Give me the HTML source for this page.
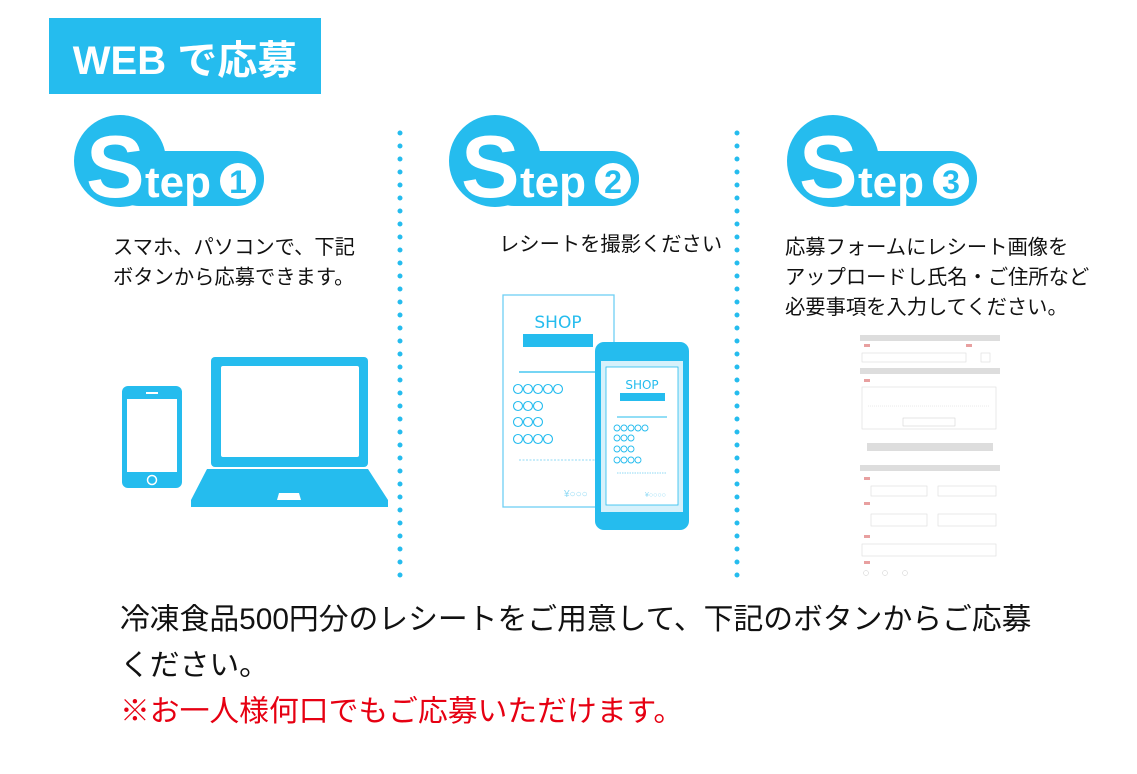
<!DOCTYPE html>
<html><head><meta charset="utf-8"><style>
body{margin:0;width:1137px;height:774px;background:#fff;overflow:hidden;position:relative;font-family:"Liberation Sans","Noto Sans CJK JP",sans-serif;}
.t{position:absolute;white-space:nowrap;color:#111;}
</style></head><body>
<svg width="1137" height="774" style="position:absolute;left:0;top:0" xmlns="http://www.w3.org/2000/svg">
<rect x="49" y="18" width="272" height="76" fill="#25bcee"/>
<text x="185" y="74" text-anchor="middle" font-size="40" font-weight="bold" fill="#fff" font-family="Liberation Sans,Noto Sans CJK JP,sans-serif">WEB で応募</text>
<line x1="400" y1="133" x2="400" y2="580" stroke="#25bcee" stroke-width="5" stroke-linecap="round" stroke-dasharray="0 13"/>
<line x1="737" y1="133" x2="737" y2="580" stroke="#25bcee" stroke-width="5" stroke-linecap="round" stroke-dasharray="0 13"/>
<g transform="translate(72,115)">
<circle cx="48" cy="46" r="46" fill="#25bcee"/>
<rect x="40" y="36" width="152" height="55" rx="27" fill="#25bcee"/>
<text x="14" y="82" font-size="88" font-weight="bold" fill="#fff" font-family="Liberation Sans,sans-serif">S</text>
<text x="73" y="82" font-size="44" font-weight="bold" fill="#fff" font-family="Liberation Sans,sans-serif">tep</text>
<circle cx="166" cy="66" r="18" fill="#fff"/>
<text x="166" y="78" text-anchor="middle" font-size="32" font-weight="bold" fill="#25bcee" font-family="Liberation Sans,sans-serif">1</text>
</g>
<g transform="translate(447,115)">
<circle cx="48" cy="46" r="46" fill="#25bcee"/>
<rect x="40" y="36" width="152" height="55" rx="27" fill="#25bcee"/>
<text x="14" y="82" font-size="88" font-weight="bold" fill="#fff" font-family="Liberation Sans,sans-serif">S</text>
<text x="73" y="82" font-size="44" font-weight="bold" fill="#fff" font-family="Liberation Sans,sans-serif">tep</text>
<circle cx="166" cy="66" r="18" fill="#fff"/>
<text x="166" y="78" text-anchor="middle" font-size="32" font-weight="bold" fill="#25bcee" font-family="Liberation Sans,sans-serif">2</text>
</g>
<g transform="translate(785,115)">
<circle cx="48" cy="46" r="46" fill="#25bcee"/>
<rect x="40" y="36" width="152" height="55" rx="27" fill="#25bcee"/>
<text x="14" y="82" font-size="88" font-weight="bold" fill="#fff" font-family="Liberation Sans,sans-serif">S</text>
<text x="73" y="82" font-size="44" font-weight="bold" fill="#fff" font-family="Liberation Sans,sans-serif">tep</text>
<circle cx="166" cy="66" r="18" fill="#fff"/>
<text x="166" y="78" text-anchor="middle" font-size="32" font-weight="bold" fill="#25bcee" font-family="Liberation Sans,sans-serif">3</text>
</g>
<rect x="122" y="386" width="60" height="102" rx="6" fill="#25bcee"/>
<rect x="127" y="399" width="50" height="73" fill="#fff"/>
<circle cx="152" cy="480" r="4.5" fill="none" stroke="#fff" stroke-width="1.5"/>
<rect x="146" y="392" width="12" height="2" fill="#fff"/>
<rect x="211" y="357" width="157" height="110" rx="4" fill="#25bcee"/>
<rect x="221" y="366" width="138" height="91" rx="2" fill="#fff"/>
<path d="M207 469 L368 469 L388 500 L388 507 L191 507 L191 500 Z" fill="#25bcee"/>
<path d="M279 493 L299 493 L301 500 L277 500 Z" fill="#fff"/>
<rect x="503" y="295" width="111" height="212" fill="#fff" stroke="#6fd0f3" stroke-width="1.3"/>
<text x="558" y="328" text-anchor="middle" font-size="17" fill="#25bcee" font-family="DejaVu Sans,sans-serif">SHOP</text>
<rect x="523" y="334" width="70" height="13" fill="#25bcee"/>
<line x1="519" y1="372" x2="600" y2="372" stroke="#25bcee" stroke-width="1.2"/>
<g fill="none" stroke="#25bcee" stroke-width="1.1">
<circle cx="518" cy="389" r="4.5"/><circle cx="528" cy="389" r="4.5"/><circle cx="538" cy="389" r="4.5"/><circle cx="548" cy="389" r="4.5"/><circle cx="558" cy="389" r="4.5"/>
<circle cx="518" cy="406" r="4.5"/><circle cx="528" cy="406" r="4.5"/><circle cx="538" cy="406" r="4.5"/>
<circle cx="518" cy="422" r="4.5"/><circle cx="528" cy="422" r="4.5"/><circle cx="538" cy="422" r="4.5"/>
<circle cx="518" cy="439" r="4.5"/><circle cx="528" cy="439" r="4.5"/><circle cx="538" cy="439" r="4.5"/><circle cx="548" cy="439" r="4.5"/>
</g>
<line x1="519" y1="460" x2="600" y2="460" stroke="#8fdaf5" stroke-dasharray="2 1.5"/>
<text x="564" y="497" font-size="10" fill="#8fdaf5">¥○○○</text>
<rect x="595" y="342" width="94" height="188" rx="9" fill="#25bcee"/>
<rect x="601" y="361" width="82" height="151" fill="#d6f1fb"/>
<rect x="606" y="367" width="72" height="138" fill="#fff" stroke="#25bcee" stroke-width="0.8"/>
<text x="642" y="389" text-anchor="middle" font-size="12" fill="#25bcee" font-family="DejaVu Sans,sans-serif">SHOP</text>
<rect x="620" y="393" width="45" height="8" fill="#25bcee"/>
<line x1="617" y1="417" x2="667" y2="417" stroke="#25bcee"/>
<g fill="none" stroke="#25bcee" stroke-width="0.9">
<circle cx="617" cy="428" r="3"/><circle cx="624" cy="428" r="3"/><circle cx="631" cy="428" r="3"/><circle cx="638" cy="428" r="3"/><circle cx="645" cy="428" r="3"/>
<circle cx="617" cy="438" r="3"/><circle cx="624" cy="438" r="3"/><circle cx="631" cy="438" r="3"/>
<circle cx="617" cy="449" r="3"/><circle cx="624" cy="449" r="3"/><circle cx="631" cy="449" r="3"/>
<circle cx="617" cy="460" r="3"/><circle cx="624" cy="460" r="3"/><circle cx="631" cy="460" r="3"/><circle cx="638" cy="460" r="3"/>
</g>
<line x1="617" y1="473" x2="667" y2="473" stroke="#8fdaf5" stroke-dasharray="1.5 1"/>
<text x="645" y="497" font-size="7" fill="#8fdaf5">¥○○○○</text>
<g>
<rect x="860" y="335" width="140" height="6" fill="#ddd"/>
<rect x="864" y="344" width="6" height="3" fill="#e8a0a0"/>
<rect x="966" y="344" width="6" height="3" fill="#e8a0a0"/>
<rect x="862" y="353" width="104" height="9" fill="#fff" stroke="#ddd" stroke-width="0.6"/>
<rect x="981" y="353" width="9" height="9" fill="#fff" stroke="#ddd" stroke-width="0.6"/>
<rect x="860" y="368" width="140" height="6" fill="#ddd"/>
<rect x="864" y="379" width="6" height="3" fill="#e8a0a0"/>
<rect x="862" y="387" width="134" height="42" fill="#fff" stroke="#ddd" stroke-width="0.6"/>
<line x1="868" y1="406" x2="990" y2="406" stroke="#ccc" stroke-width="0.4" stroke-dasharray="1 1"/>
<rect x="903" y="418" width="52" height="8" fill="#fff" stroke="#ccc" stroke-width="0.5"/>
<rect x="867" y="443" width="126" height="8" fill="#ddd"/>
<rect x="860" y="465" width="140" height="6" fill="#ddd"/>
<rect x="864" y="477" width="6" height="3" fill="#e8a0a0"/>
<rect x="871" y="486" width="56" height="10" fill="#fff" stroke="#ddd" stroke-width="0.6"/>
<rect x="938" y="486" width="58" height="10" fill="#fff" stroke="#ddd" stroke-width="0.6"/>
<rect x="864" y="502" width="6" height="3" fill="#e8a0a0"/>
<rect x="871" y="514" width="56" height="12" fill="#fff" stroke="#ddd" stroke-width="0.6"/>
<rect x="938" y="514" width="58" height="12" fill="#fff" stroke="#ddd" stroke-width="0.6"/>
<rect x="864" y="535" width="6" height="3" fill="#e8a0a0"/>
<rect x="862" y="544" width="134" height="12" fill="#fff" stroke="#ddd" stroke-width="0.6"/>
<rect x="864" y="561" width="6" height="3" fill="#e8a0a0"/>
<circle cx="866" cy="573" r="2.5" fill="none" stroke="#ccc" stroke-width="0.5"/>
<circle cx="885" cy="573" r="2.5" fill="none" stroke="#ccc" stroke-width="0.5"/>
<circle cx="905" cy="573" r="2.5" fill="none" stroke="#ccc" stroke-width="0.5"/>
</g>
</svg>
<div class="t" style="left:113px;top:233px;font-size:20.3px;line-height:30px;">スマホ、パソコンで、下記<br>ボタンから応募できます。</div>
<div class="t" style="left:499px;top:230px;font-size:20.3px;line-height:30px;">レシートを撮影ください</div>
<div class="t" style="left:785px;top:233px;font-size:20.3px;line-height:30px;">応募フォームにレシート画像を<br>アップロードし氏名・ご住所など<br>必要事項を入力してください。</div>
<div class="t" style="left:120px;top:597px;font-size:29.8px;line-height:46px;">冷凍食品500円分のレシートをご用意して、下記のボタンからご応募<br>ください。<br><span style="color:#e60012">※お一人様何口でもご応募いただけます。</span></div>
</body></html>
